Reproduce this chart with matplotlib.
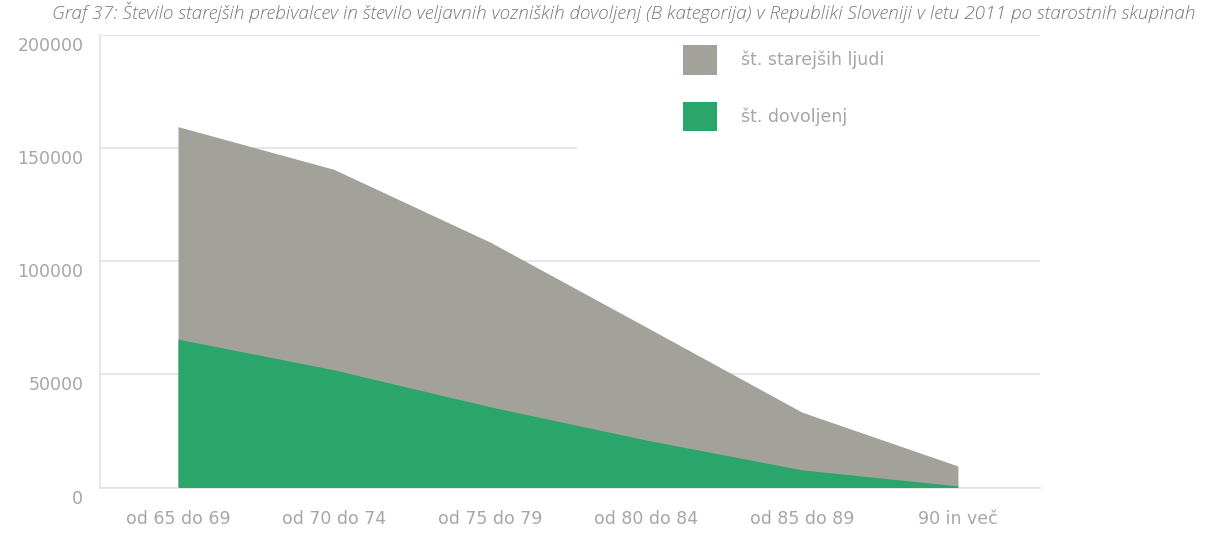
import matplotlib
matplotlib.use("Agg")
import matplotlib.pyplot as plt
from matplotlib.patches import Patch, Rectangle
from matplotlib.transforms import ScaledTranslation

# Age groups and counts (Slovenia, 2011)
age_groups = ["od 65 do 69", "od 70 do 74", "od 75 do 79", "od 80 do 84", "od 85 do 89", "90 in več"]
older_people = [159500, 140600, 108500, 71000, 33300, 9500]
licences = [65600, 52000, 35700, 21000, 7800, 700]

y_ticks = [0, 50000, 100000, 150000, 200000]
y_tick_labels = ["0", "50000", "100000", "150000", "200000"]

title = ("Graf 37: Število starejših prebivalcev in število veljavnih vozniških dovoljenj "
         "(B kategorija) v Republiki Sloveniji v letu 2011 po starostnih skupinah")

GRAY = "#a3a29a"
GREEN = "#2aa66a"
TEXT = "#a6a6a6"
GRID = "#e2e2e2"

W, H = 1205, 535
fig = plt.figure(figsize=(W / 100, H / 100), dpi=100)
ax = fig.add_axes([100 / W, 1 - 487.5 / H, 940 / W, 452.5 / H])

x = list(range(len(age_groups)))
ax.fill_between(x, 0, older_people, color=GRAY, lw=0, zorder=2)
ax.fill_between(x, 0, licences, color=GREEN, lw=0, zorder=3)

ax.set_xlim(-0.5, 5.526)
ax.set_ylim(0, 200000)

ax.set_yticks(y_ticks)
ax.set_yticklabels(y_tick_labels)
ax.set_xticks(x)
ax.set_xticklabels(age_groups)
ax.tick_params(axis="both", length=0, colors=TEXT, labelsize=12.5)
ax.tick_params(axis="y", pad=12)
ax.tick_params(axis="x", pad=16)
for lbl in ax.get_yticklabels():
    lbl.set_fontfamily("DejaVu Sans")
    lbl.set_transform(lbl.get_transform() + ScaledTranslation(0, -9 / 100, fig.dpi_scale_trans))
for lbl in ax.get_xticklabels():
    lbl.set_fontfamily("DejaVu Sans")

ax.set_axisbelow(True)
ax.yaxis.grid(True, color=GRID, lw=1.2, zorder=0.5)
for side in ("right", "top"):
    ax.spines[side].set_visible(False)
for side in ("left", "bottom"):
    ax.spines[side].set_color(GRID)
    ax.spines[side].set_linewidth(1.2)

# White panel behind the legend
panel = Rectangle((577 / W, 1 - 152 / H), 470 / W, 112 / H, transform=fig.transFigure,
                  facecolor="white", edgecolor="none", zorder=1, clip_on=False)
ax.add_patch(panel)

handles = [Patch(facecolor=GRAY, edgecolor="none", label="št. starejših ljudi"),
           Patch(facecolor=GREEN, edgecolor="none", label="št. dovoljenj")]
leg = ax.legend(handles=handles, loc="upper left", bbox_to_anchor=(683 / W, 1 - 45 / H),
                bbox_transform=fig.transFigure, frameon=False, fontsize=12.5,
                handlelength=1.95, handleheight=2.25, labelspacing=1.56,
                handletextpad=1.4, borderpad=0, borderaxespad=0)
for t in leg.get_texts():
    t.set_color(TEXT)
    t.set_fontfamily("DejaVu Sans")

# Title, scaled to span its line
ttl = fig.text(1195 / W, 1 - 12 / H, title, ha="right", va="center", color="#767676",
               fontsize=11, style="italic", family="Open Sans", fontweight="light")
fig.canvas.draw()
width = ttl.get_window_extent().width
ttl.set_fontsize(11 * 1148 / width)

fig.savefig("out.png", dpi=100, facecolor="white")
